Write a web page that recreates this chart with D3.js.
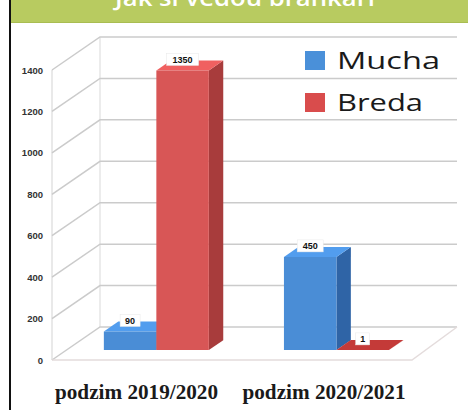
<!DOCTYPE html>
<html>
<head>
<meta charset="utf-8">
<script src="https://cdn.jsdelivr.net/npm/d3@7"></script>
<style>
  body { margin: 0; background: #fff; }
  svg { display: block; }
</style>
</head>
<body>
<svg id="chart" width="468" height="410"></svg>
<script>
const title = "Jak si vedou brankáři"
const categories = ["podzim 2019/2020", "podzim 2020/2021"]
const seriesNames = ["Mucha", "Breda"]
const mucha = [90, 450]
const breda = [1350, 1]
const yTicks = [0, 200, 400, 600, 800, 1000, 1200, 1400]

const colors = {
    "Mucha": { front: '#4a8dd6', side: '#2f64a6', top: '#6fa8e6', legend: '#4a90d9' },
    "Breda": { front: '#d85656', side: '#a83c3c', top: '#c43a38', legend: '#d94c4c' }
}

const svg = d3.select("#chart")

// depth vector of the oblique 3d box
const DX = 48, DY = -33

const y = d3.scaleLinear().domain([0, 1400]).range([360, 70])
const x0 = d3.scaleBand().domain(categories).range([52, 412]).paddingInner(0.417).paddingOuter(0.208)
const x1 = d3.scaleBand().domain(seriesNames).range([0, x0.bandwidth()])

const pt = (px, v, d) => [px + d * DX, y(v) + d * DY]
const poly = pts => "M" + pts.map(p => p.join(",")).join("L") + "Z"

// header
svg.append("rect").attr("x", 10).attr("y", 0).attr("width", 458).attr("height", 23).attr("fill", "#b8cb60")
svg.append("line").attr("x1", 10).attr("x2", 468).attr("y1", 22.5).attr("y2", 22.5).attr("stroke", "#a9bd52")
svg.append("text").attr("x", 245).attr("y", 6).attr("text-anchor", "middle")
    .attr("font-family", "Open Sans").attr("font-weight", 600).attr("font-size", 24)
    .attr("textLength", 260).attr("lengthAdjust", "spacingAndGlyphs")
    .attr("fill", "#fff").text(title)
svg.append("rect").attr("x", 9).attr("y", 0).attr("width", 2).attr("height", 410).attr("fill", "#111")

// walls and grid
const grid = svg.append("g").attr("fill", "none").attr("stroke", "#cbcbcb").attr("stroke-width", 1.5)
grid.append("line").attr("x1", 52).attr("x2", 52).attr("y1", y(0)).attr("y2", y(1400)).attr("stroke", "#e2e2e2")
grid.append("line").attr("x1", 52 + DX).attr("x2", 52 + DX).attr("y1", y(0) + DY).attr("y2", y(1400) + DY).attr("stroke", "#e6e6e6")
yTicks.forEach(function(t) {
    const a = pt(52, t, 0), b = pt(52, t, 1), c = pt(409, t, 1)
    grid.append("path").attr("d", "M" + a + "L" + b + "L" + c)
})
// floor edges
grid.append("path").attr("d", "M" + pt(52, 0, 0) + "L" + pt(412, 0, 0) + "L" + pt(409, 0, 1))
    .attr("stroke", "#e4dcdc")

// bars
const d0 = 0.3, d1 = 0.6
const bars = []
categories.forEach(function(cat, i) {
    bars.push({ cat: cat, name: "Mucha", value: mucha[i] })
    bars.push({ cat: cat, name: "Breda", value: breda[i] })
})

const gBars = svg.append("g")
bars.forEach(function(b) {
    const xl = x0(b.cat) + x1(b.name), xr = xl + x1.bandwidth()
    const c = colors[b.name]
    // side
    gBars.append("path").attr("fill", c.side)
        .attr("d", poly([pt(xr, 0, d0), pt(xr, 0, d1), pt(xr, b.value, d1), pt(xr, b.value, d0)]))
    // top
    gBars.append("path").attr("fill", b.value < 20 ? c.top : d3.color(c.front).brighter(0.3))
        .attr("d", poly([pt(xl, b.value, d0), pt(xr, b.value, d0), pt(xr, b.value, d1), pt(xl, b.value, d1)]))
    // front
    gBars.append("path").attr("fill", c.front)
        .attr("d", poly([pt(xl, 0, d0), pt(xr, 0, d0), pt(xr, b.value, d0), pt(xl, b.value, d0)]))
})

// value labels
bars.forEach(function(b) {
    const cx = x0(b.cat) + x1(b.name) + x1.bandwidth() / 2 + d0 * DX
    const cy = y(b.value) + d0 * DY - 11
    const txt = String(b.value)
    const w = txt.length * 6 + 8
    svg.append("rect").attr("x", cx - w / 2).attr("y", cy - 6).attr("width", w).attr("height", 12)
        .attr("fill", "#fff").attr("stroke", "#e8e8e8").attr("stroke-width", 0.5)
    svg.append("text").attr("x", cx).attr("y", cy + 3.5).attr("text-anchor", "middle")
        .attr("font-family", "Liberation Sans").attr("font-weight", "bold").attr("font-size", 9)
        .attr("fill", "#111").text(txt)
})

// y axis labels
svg.append("g").selectAll("text").data(yTicks).enter().append("text")
    .attr("x", 43).attr("y", d => y(d) + 3.5).attr("text-anchor", "end")
    .attr("font-family", "Liberation Sans").attr("font-weight", "bold").attr("font-size", 9.5)
    .attr("fill", "#333").text(d => d)

// x labels
svg.append("g").selectAll("text").data(categories).enter().append("text")
    .attr("x", (d, i) => i === 0 ? 136.5 : 324).attr("y", 399).attr("text-anchor", "middle")
    .attr("font-family", "Liberation Serif").attr("font-weight", "bold").attr("font-size", 20)
    .attr("textLength", 163).attr("lengthAdjust", "spacingAndGlyphs")
    .attr("fill", "#1a1a1a").text(d => d)

// legend
const legend = svg.append("g")
seriesNames.forEach(function(s, i) {
    legend.append("rect").attr("x", 305).attr("y", 51 + i * 42).attr("width", 20).attr("height", 19)
        .attr("fill", colors[s].legend)
    legend.append("text").attr("x", 337).attr("y", 69 + i * 42)
        .attr("font-family", "Open Sans").attr("font-size", 24)
        .attr("textLength", i === 0 ? 103 : 86).attr("lengthAdjust", "spacingAndGlyphs")
        .attr("fill", "#1a1a1a").text(s)
})
</script>
</body>
</html>
